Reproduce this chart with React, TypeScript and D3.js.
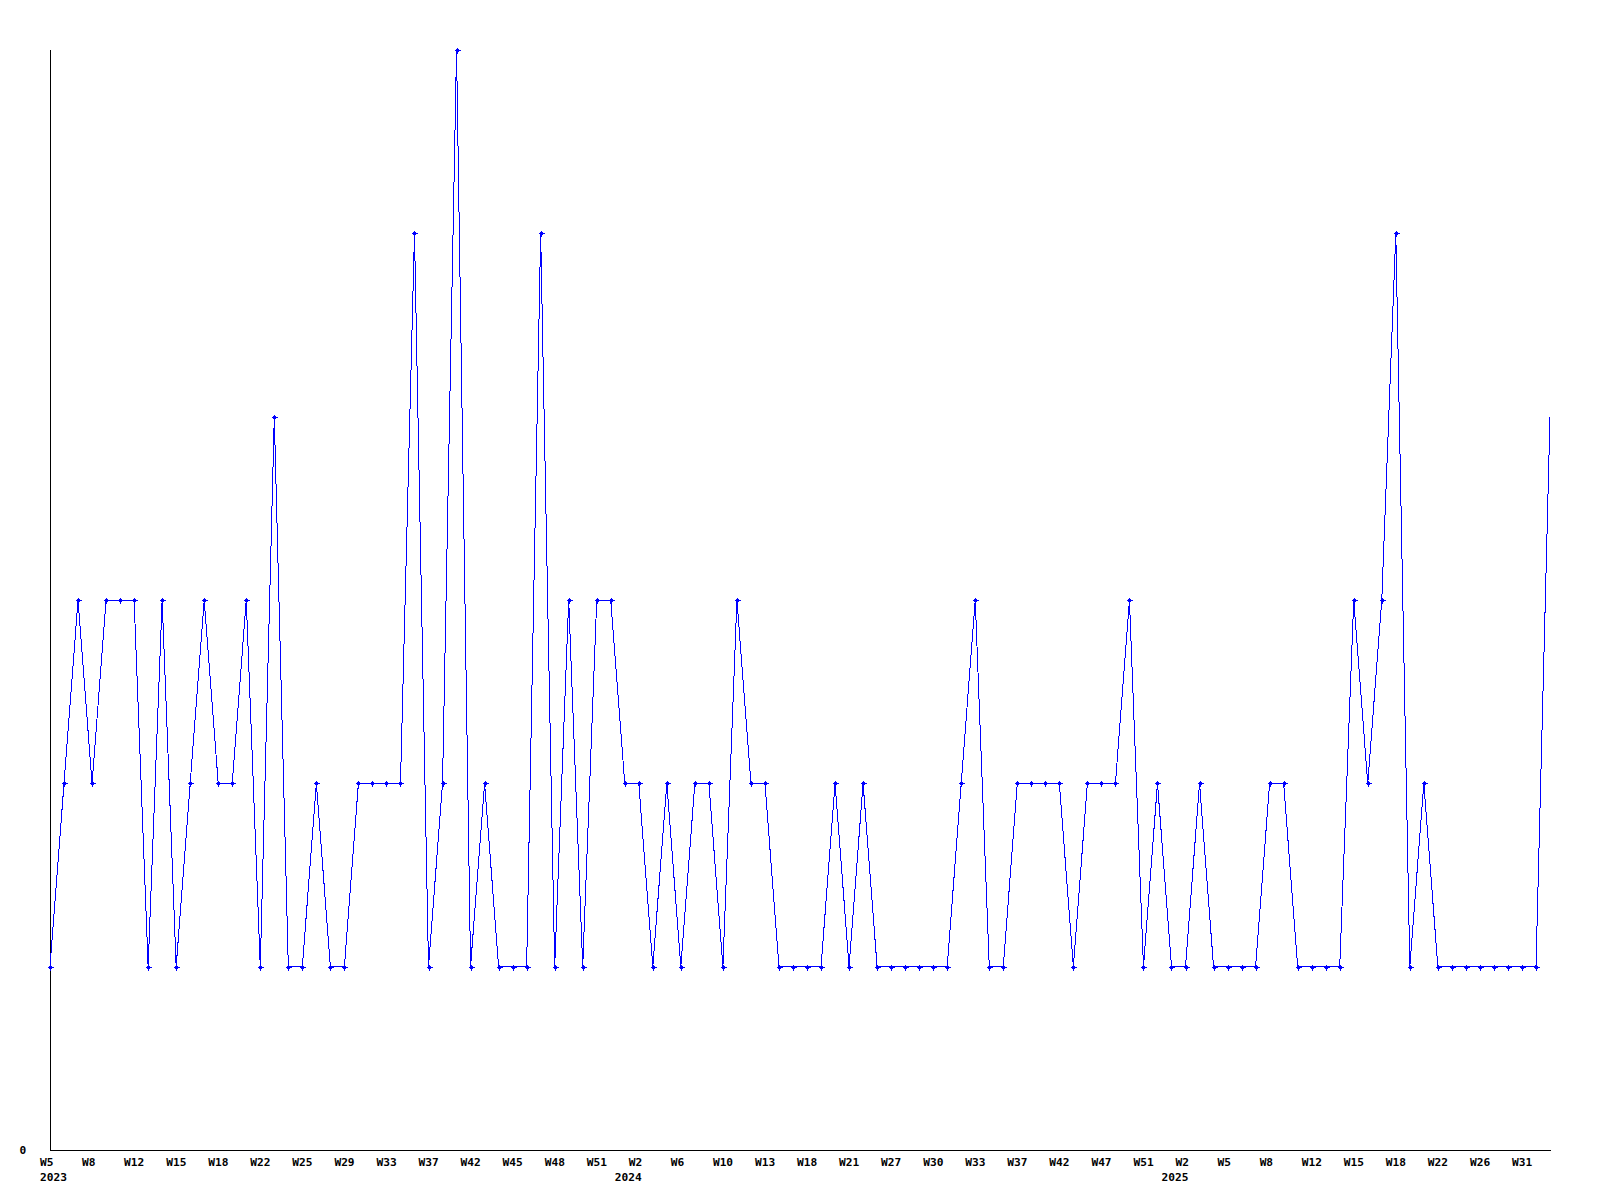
import React from "react";
import * as d3 from "d3";

const values: number[] = [
  1, 2, 3, 2, 3, 3, 3, 1, 3, 1, 2, 3, 2, 2, 3, 1, 4, 1, 1, 2,
  1, 1, 2, 2, 2, 2, 5, 1, 2, 6, 1, 2, 1, 1, 1, 5, 1, 3, 1, 3,
  3, 2, 2, 1, 2, 1, 2, 2, 1, 3, 2, 2, 1, 1, 1, 1, 2, 1, 2, 1,
  1, 1, 1, 1, 1, 2, 3, 1, 1, 2, 2, 2, 2, 1, 2, 2, 2, 3, 1, 2,
  1, 1, 2, 1, 1, 1, 1, 2, 2, 1, 1, 1, 1, 3, 2, 3, 5, 1, 2, 1,
  1, 1, 1, 1, 1, 1, 1, 4,
];

// one tick label every 3 points
const weekTicks: string[] = [
  "W5", "W8", "W12", "W15", "W18", "W22", "W25", "W29", "W33", "W37", "W42", "W45",
  "W48", "W51", "W2", "W6", "W10", "W13", "W18", "W21", "W27", "W30", "W33", "W37",
  "W42", "W47", "W51", "W2", "W5", "W8", "W12", "W15", "W18", "W22", "W26", "W31",
];
const tickEvery = 3;

const yearNames: string[] = ["2023", "2024", "2025"];
const yearStartIndex: number[] = [0, 41, 80];

const yTickValues: number[] = [0];

const W = 1600;
const H = 1200;
const left = 50;
const right = 1550;
const top = 50;
const bottom = 1150;
const font = "'DejaVu Sans Mono', monospace";
const fs = 11.2;

export default function App() {
  const idx = values.map((_, i) => i);
  const x = d3.scaleLinear().domain([0, values.length - 1]).range([left, right]);
  const y = d3.scaleLinear().domain([0, 6]).range([bottom, top]);
  const line = d3
    .line<number>()
    .x((_, i) => x(i))
    .y((d) => y(d));

  return (
    <svg
      width={W}
      height={H}
      style={{ position: "absolute", left: 0, top: 0, background: "#fff" }}
    >
      <rect x={0} y={0} width={W} height={H} fill="#fff" />
      {/* axes */}
      <line x1={left + 0.5} x2={left + 0.5} y1={top} y2={bottom + 1} stroke="#000" strokeWidth={1} shapeRendering="crispEdges" />
      <line x1={left} x2={right + 1} y1={bottom + 0.5} y2={bottom + 0.5} stroke="#000" strokeWidth={1} shapeRendering="crispEdges" />
      {yTickValues.map((v) => (
        <text key={v} x={19.5} y={y(v) + 4} fontFamily={font} fontWeight="bold" fontSize={fs} fill="#000">
          {String(v)}
        </text>
      ))}
      {/* series */}
      <path d={line(values) || ""} fill="none" stroke="#0000ff" strokeWidth={1} shapeRendering="crispEdges" />
      {idx.slice(0, values.length - 1).map((i) => {
        const cx = Math.round(x(i)) + 0.5;
        const cy = Math.round(y(values[i])) + 0.5;
        return (
          <g key={i} shapeRendering="crispEdges">
            <rect x={cx - 1.5} y={cy - 1.5} width={3} height={3} fill="#0000ff" />
            <line x1={cx - 3} x2={cx + 3} y1={cy} y2={cy} stroke="#0000ff" strokeWidth={1} />
            <line x1={cx} x2={cx} y1={cy - 3} y2={cy + 3} stroke="#0000ff" strokeWidth={1} />
          </g>
        );
      })}
      {/* week labels */}
      {weekTicks.map((t, k) => (
        <text
          key={"w" + k}
          x={x(k * tickEvery) - 10}
          y={1166}
          fontFamily={font}
          fontWeight="bold"
          fontSize={fs}
          fill="#000"
        >
          {t}
        </text>
      ))}
      {yearNames.map((yr, k) => (
        <text
          key={"y" + yr}
          x={x(yearStartIndex[k]) - 10}
          y={1181}
          fontFamily={font}
          fontWeight="bold"
          fontSize={fs}
          fill="#000"
        >
          {yr}
        </text>
      ))}
    </svg>
  );
}
